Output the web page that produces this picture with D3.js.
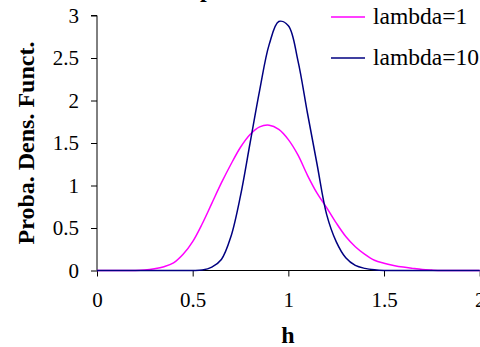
<!DOCTYPE html>
<html><head><meta charset="utf-8">
<script src="https://cdn.jsdelivr.net/npm/d3@7"></script>
</head><body style="margin:0">
<script>
const hValues = [0,0.05,0.1,0.15,0.2,0.25,0.3,0.35,0.4,0.45,0.5,0.55,0.6,0.65,0.7,0.75,0.8,0.85,0.9,0.95,1.0,1.05,1.1,1.15,1.2,1.25,1.3,1.35,1.4,1.45,1.5,1.55,1.6,1.65,1.7,1.75,1.8,1.85,1.9,1.95,2.0];
const pdfLambda1 = [0,0,0,0,0,0.005,0.02,0.045,0.09,0.19,0.34,0.55,0.79,1.03,1.25,1.45,1.60,1.69,1.71,1.66,1.54,1.36,1.12,0.91,0.74,0.56,0.40,0.28,0.19,0.12,0.085,0.06,0.04,0.025,0.012,0.005,0,0,0,0,0];
const pdfLambda10 = [0,0,0,0,0,0,0,0,0,0,0,0.005,0.04,0.13,0.40,0.88,1.50,2.12,2.66,2.93,2.88,2.47,1.85,1.25,0.66,0.34,0.15,0.06,0.025,0.008,0,0,0,0,0,0,0,0,0,0,0];
const seriesNames = ["lambda=1", "lambda=10"];
const seriesColors = ["#ff00ff", "#000080"];
const xTicks = [0,0.5,1,1.5,2];
const yTicks = [0,0.5,1,1.5,2,2.5,3];
const titleText = "pdf";
const xTitle = "h";
const yTitle = "Proba. Dens. Funct.";

const W = 480, H = 347;
const FONT = '"Times New Roman", "Liberation Serif", Tinos, "Nimbus Roman", FreeSerif, Times, "DejaVu Serif", serif';
const svg = d3.select("body").append("svg").attr("width", W).attr("height", H)
  .style("display", "block");
const x = d3.scaleLinear().domain([0,2]).range([97, 479.7]);
const y = d3.scaleLinear().domain([0,3]).range([270.5, 15.5]);

function txt(sel) { return sel.attr("font-family", FONT); }

// title (cropped at top)
txt(svg.append("text")).attr("x", 200).attr("y", -3)
  .attr("font-weight", "bold").attr("font-size", 24).text(titleText);

// y axis
const yAxis = svg.append("g").attr("transform", `translate(${x(0)},0)`)
  .call(d3.axisLeft(y).tickValues(yTicks).tickSize(6).tickPadding(12).tickFormat(d3.format("")));
yAxis.attr("font-family", FONT).attr("font-size", 21);
yAxis.select(".domain").attr("stroke", "#000").attr("d", `M-6,${y(3)}H0V${y(0)}`);
txt(yAxis.selectAll("text")).attr("fill", "#000");

// x axis
const xAxis = svg.append("g").attr("transform", `translate(0,${y(0)})`)
  .call(d3.axisBottom(x).tickValues(xTicks).tickSize(6).tickPadding(16).tickFormat(d3.format("")));
xAxis.attr("font-family", FONT).attr("font-size", 21);
xAxis.select(".domain").attr("stroke", "#000").attr("d", `M${x(0)},0H${x(2)}`);
txt(xAxis.selectAll("text")).attr("fill", "#000");

// axis titles
txt(svg.append("text")).attr("x", 288).attr("y", 343).attr("text-anchor", "middle")
  .attr("font-weight", "bold").attr("font-size", 24).text(xTitle);
txt(svg.append("text")).attr("transform", `translate(34,${(y(0)+y(3))/2}) rotate(-90)`)
  .attr("text-anchor", "middle").attr("font-weight", "bold")
  .attr("font-size", 24).text(yTitle);

// curves
const series = [pdfLambda1, pdfLambda10];
const line = d3.line().x((d,i) => x(hValues[i])).y(d => y(d)).curve(d3.curveCatmullRom.alpha(0.5));
series.forEach((s, k) => {
  svg.append("path").datum(s).attr("fill", "none").attr("stroke", seriesColors[k])
    .attr("stroke-width", 1.5).attr("d", line);
});

// legend
const legendY = [17, 58];
seriesNames.forEach((name, k) => {
  svg.append("line").attr("x1", 331).attr("x2", 365).attr("y1", legendY[k]).attr("y2", legendY[k])
    .attr("stroke", seriesColors[k]).attr("stroke-width", 1.5);
  txt(svg.append("text")).attr("x", 373).attr("y", legendY[k] + 7)
    .attr("font-size", 23.5).attr("fill", "#000").text(name);
});
</script>
</body></html>
